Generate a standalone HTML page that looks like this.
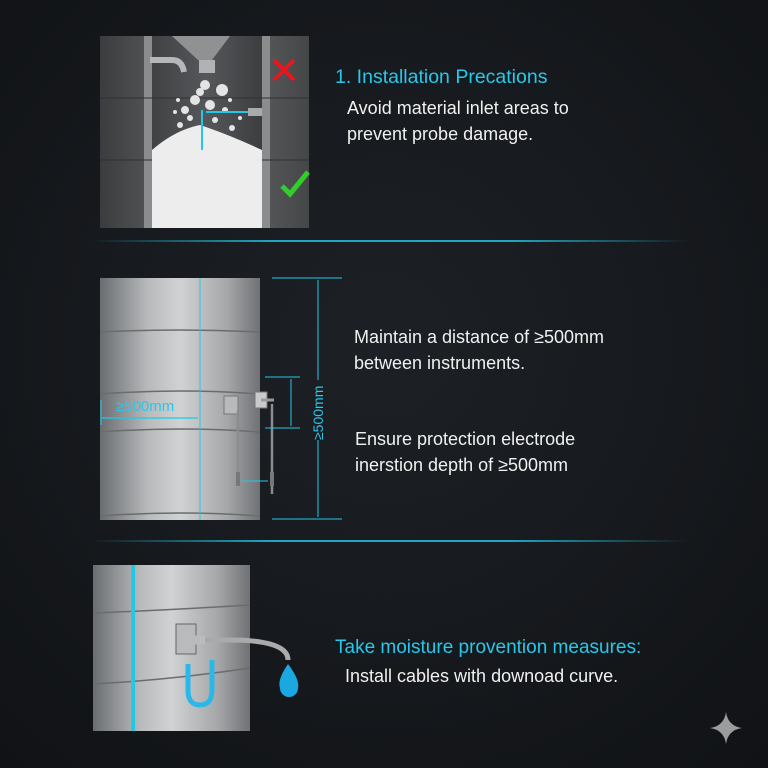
<!DOCTYPE html>
<html><head><style>
html,body{margin:0;padding:0;background:#16191d;}
svg{display:block}
text{font-family:"Liberation Sans",sans-serif;}
</style></head><body>
<svg width="768" height="768" viewBox="0 0 768 768" xmlns="http://www.w3.org/2000/svg">
<defs>
<radialGradient id="bg" cx="50%" cy="45%" r="75%"><stop offset="0" stop-color="#1d2126"/><stop offset="1" stop-color="#101215"/></radialGradient>
<linearGradient id="sep" x1="0" x2="1"><stop offset="0" stop-color="#22c8e8" stop-opacity="0"/><stop offset="0.3" stop-color="#22c8e8" stop-opacity="0.8"/><stop offset="0.7" stop-color="#22c8e8" stop-opacity="0.8"/><stop offset="1" stop-color="#22c8e8" stop-opacity="0"/></linearGradient>
<linearGradient id="cyl" x1="0" x2="1"><stop offset="0" stop-color="#6a6d70"/><stop offset="0.3" stop-color="#b8babc"/><stop offset="0.5" stop-color="#d0d2d3"/><stop offset="0.8" stop-color="#a4a6a8"/><stop offset="1" stop-color="#6f7174"/></linearGradient>
<linearGradient id="cyl1" x1="0" x2="1"><stop offset="0" stop-color="#3a3c3e"/><stop offset="0.5" stop-color="#6a6c6e"/><stop offset="1" stop-color="#444648"/></linearGradient>
<linearGradient id="inner" x1="0" x2="1"><stop offset="0" stop-color="#3e4042"/><stop offset="0.5" stop-color="#55575a"/><stop offset="1" stop-color="#3a3c3e"/></linearGradient>
</defs>
<rect width="768" height="768" fill="url(#bg)"/>
<rect x="90" y="240" width="600" height="2" fill="url(#sep)"/>
<rect x="90" y="540" width="600" height="2" fill="url(#sep)"/>

<!-- Panel 1 -->
<rect x="100" y="36" width="209" height="192" fill="url(#cyl1)"/>
<rect x="148" y="36" width="117" height="192" fill="url(#inner)"/>
<rect x="144" y="36" width="8" height="192" fill="#8a8c8e"/>
<rect x="262" y="36" width="8" height="192" fill="#8a8c8e"/>
<g stroke="#2f3133" stroke-width="1"><line x1="100" y1="98" x2="309" y2="98"/><line x1="100" y1="160" x2="309" y2="160"/></g>
<polygon points="172,36 230,36 212,60 198,60" fill="#8f9193"/>
<rect x="199" y="60" width="16" height="13" fill="#b0b2b4"/>
<path d="M150 60 L172 60 Q182 60 184 72" stroke="#b5b7b9" stroke-width="6" fill="none"/>
<path d="M152,228 L152,150 Q175,130 200,125 Q230,135 262,150 L262,228Z" fill="#ededed"/>
<g fill="#e4e4e4"><circle cx="205" cy="85" r="5"/><circle cx="222" cy="90" r="6"/><circle cx="195" cy="100" r="5"/><circle cx="185" cy="110" r="4"/><circle cx="210" cy="105" r="5"/><circle cx="175" cy="112" r="2"/><circle cx="225" cy="110" r="3"/><circle cx="232" cy="128" r="3"/><circle cx="180" cy="125" r="3"/><circle cx="200" cy="92" r="4"/><circle cx="190" cy="118" r="3"/><circle cx="215" cy="120" r="3"/><circle cx="230" cy="100" r="2"/><circle cx="178" cy="100" r="2"/><circle cx="240" cy="118" r="2"/></g>
<line x1="206" y1="112" x2="248" y2="112" stroke="#22c8e8" stroke-width="2"/>
<line x1="202" y1="110" x2="202" y2="150" stroke="#22c8e8" stroke-width="2"/>
<rect x="248" y="108" width="14" height="8" fill="#aaa"/>
<g stroke="#e8161d" stroke-width="4"><line x1="274" y1="60" x2="294" y2="80"/><line x1="294" y1="60" x2="274" y2="80"/></g>
<polyline points="282,186 290,194 308,172" stroke="#2fcf2a" stroke-width="5" fill="none"/>
<text x="335" y="83" font-size="19.5" fill="#28c8ea">1. Installation Precations</text>
<text x="347" y="114" font-size="18" fill="#f0f0f0">Avoid material inlet areas to</text>
<text x="347" y="140" font-size="18" fill="#f0f0f0">prevent probe damage.</text>

<!-- Panel 2 -->
<rect x="100" y="278" width="160" height="242" fill="url(#cyl)"/>
<g stroke="#6a6c6e" stroke-width="1.5" fill="none"><path d="M100 332 Q180 328 260 332"/><path d="M100 394 Q180 388 260 394"/><path d="M100 432 Q180 426 260 432"/><path d="M100 516 Q180 510 260 516"/></g>
<line x1="200" y1="278" x2="200" y2="520" stroke="#22c8e8" stroke-width="1"/>
<line x1="102" y1="418" x2="198" y2="418" stroke="#22c8e8" stroke-width="1.2"/>
<line x1="101" y1="400" x2="101" y2="425" stroke="#22c8e8" stroke-width="1"/>
<text x="116" y="411" font-size="15" fill="#28c8ea">≥500mm</text>
<rect x="224" y="396" width="14" height="18" fill="#b8babc" stroke="#777"/>
<line x1="238" y1="410" x2="238" y2="484" stroke="#8a8c8e" stroke-width="2.5"/>
<rect x="236" y="472" width="4" height="14" fill="#777"/>
<rect x="255" y="392" width="12" height="16" fill="#c8cacc" stroke="#777"/>
<line x1="261" y1="400" x2="274" y2="400" stroke="#999" stroke-width="3"/>
<line x1="272" y1="404" x2="272" y2="494" stroke="#8a8c8e" stroke-width="2.5"/>
<rect x="270" y="472" width="4" height="14" fill="#777"/>
<line x1="242" y1="481" x2="268" y2="481" stroke="#22c8e8" stroke-width="1"/>
<g stroke="#22c8e8" stroke-width="1"><line x1="272" y1="278" x2="342" y2="278"/><line x1="272" y1="519" x2="342" y2="519"/><line x1="318" y1="280" x2="318" y2="380"/><line x1="318" y1="440" x2="318" y2="517"/><line x1="265" y1="377" x2="300" y2="377"/><line x1="265" y1="428" x2="300" y2="428"/><line x1="291" y1="379" x2="291" y2="426"/></g>
<text transform="translate(323,440) rotate(-90)" font-size="14" fill="#28c8ea">≥500mm</text>
<text x="354" y="343" font-size="18" fill="#f0f0f0">Maintain a distance of ≥500mm</text>
<text x="354" y="369" font-size="18" fill="#f0f0f0">between instruments.</text>
<text x="355" y="445" font-size="18" fill="#f0f0f0">Ensure protection electrode</text>
<text x="355" y="471" font-size="18" fill="#f0f0f0">inerstion depth of ≥500mm</text>

<!-- Panel 3 -->
<rect x="93" y="565" width="157" height="166" fill="url(#cyl)"/>
<g stroke="#6a6c6e" stroke-width="1.5" fill="none"><path d="M93 613 Q170 610 250 605"/><path d="M93 684 Q170 680 250 668"/></g>
<rect x="131" y="565" width="4" height="166" fill="#22c8e8"/>
<rect x="176" y="624" width="20" height="30" fill="#b8babc" stroke="#666"/>
<path d="M196 640 L230 640 Q288 640 288 660" stroke="#aaa" stroke-width="5" fill="none"/>
<path d="M188 640 L205 640" stroke="#bbb" stroke-width="9"/>
<path d="M188 664 L188 690 Q188 705 200 705 Q212 705 212 690 L212 660" stroke="#2ab8e8" stroke-width="5" fill="none"/>
<path d="M288 664 Q277 680 280 688 A9 9 0 0 0 298 688 Q300 680 288 664Z" fill="#1aa8e0"/>
<text x="335" y="653" font-size="19" fill="#28c8ea">Take moisture provention measures:</text>
<text x="345" y="682" font-size="18" fill="#f0f0f0">Install cables with downoad curve.</text>

<path d="M726 712 Q728 726 742 728 Q728 730 726 744 Q724 730 710 728 Q724 726 726 712Z" fill="#9a9c9e"/>
</svg>
</body></html>
